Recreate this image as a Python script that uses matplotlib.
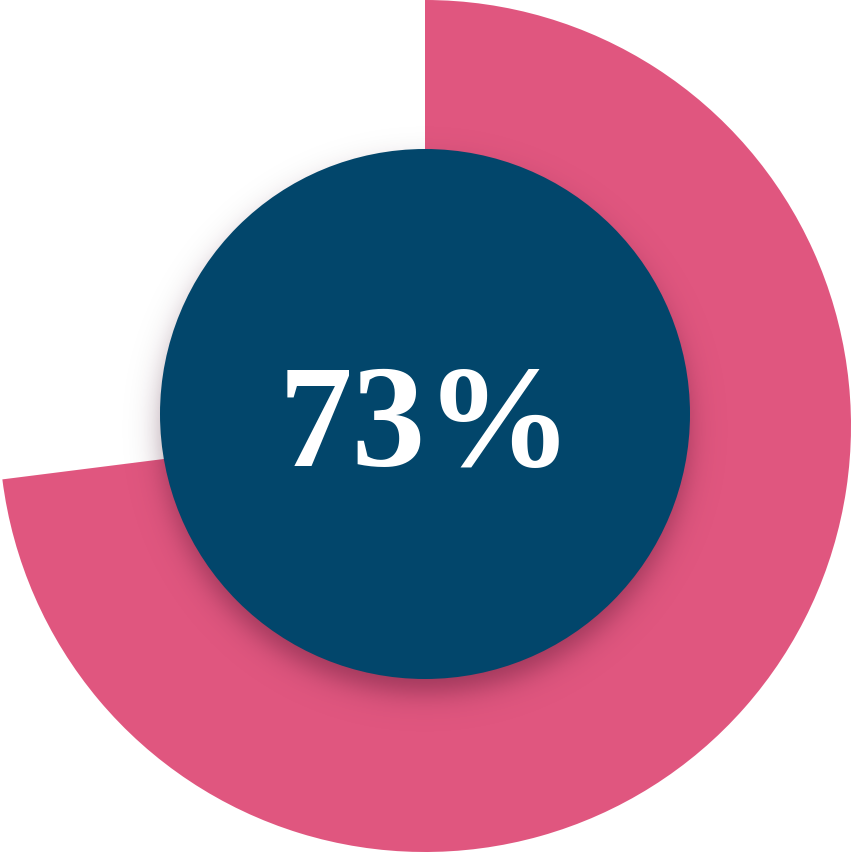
import numpy as np
import matplotlib.pyplot as plt
from matplotlib.patches import Circle

# datos
valor = 73
resto = 100 - valor
etiqueta = f'{valor}%'

rosa = '#E0567F'
azul = '#02466B'

W, H = 851, 854
fig = plt.figure(figsize=(W / 100, H / 100), dpi=100)
ax = fig.add_axes([0, 0, 1, 1])

# anillo (pie completo, el circulo azul tapa el centro)
ax.pie([valor, resto], colors=[rosa, 'none'], startangle=90, counterclock=False,
       center=(425, H - 427), radius=426, wedgeprops=dict(linewidth=0))

# sombra del circulo
cx, cy, r = 425, H - 415, 265
yy, xx = np.mgrid[0:H, 0:W]
d = np.hypot(xx + 0.5 - cx, yy + 0.5 - (cy - 15))
alpha = 0.42 * 0.5 * (1 - np.tanh((d - r + 2) / 17))
img = np.zeros((H, W, 4))
img[..., 0] = 0.25
img[..., 1] = 0.05
img[..., 2] = 0.15
img[..., 3] = alpha
ax.imshow(img, extent=(0, W, 0, H), origin='lower', zorder=2, interpolation='bilinear')

ax.add_patch(Circle((cx, cy), r, color=azul, zorder=3, linewidth=0))
ax.text(cx + 1, H - 431, etiqueta, color='white', fontsize=106, fontweight='bold',
        family='Liberation Serif', ha='center', va='center', zorder=4)

ax.set_xlim(0, W)
ax.set_ylim(0, H)
ax.set_aspect('equal')
ax.axis('off')
fig.savefig('out.png', dpi=100)
